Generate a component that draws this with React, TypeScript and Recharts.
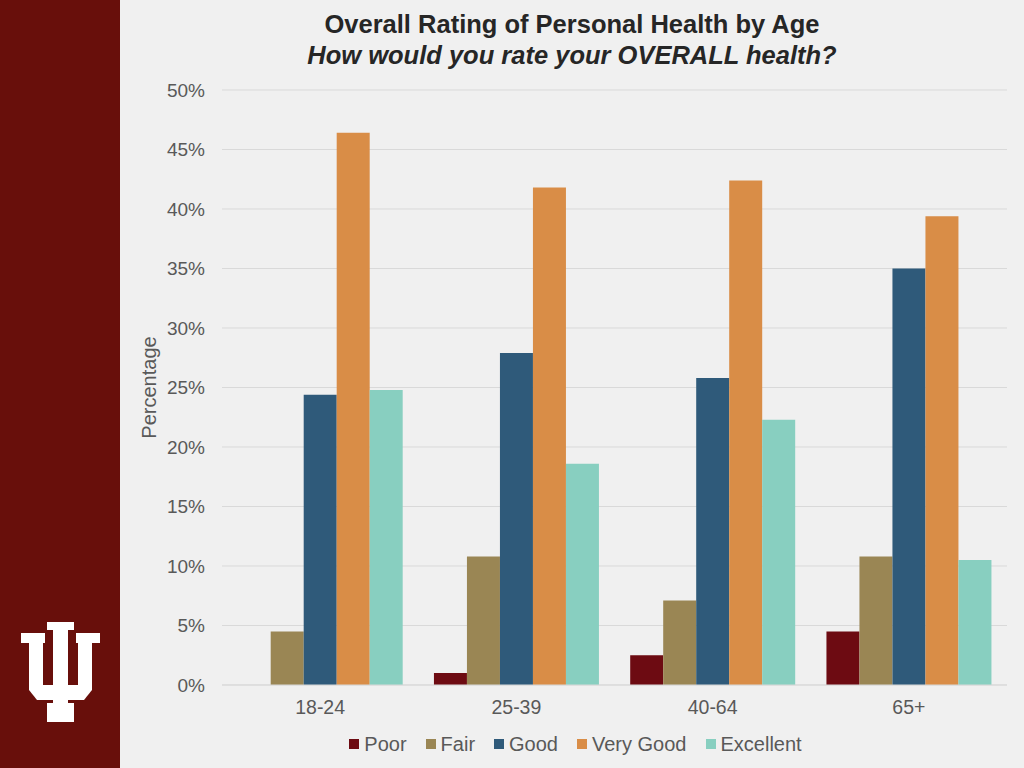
import { BarChart, Bar, XAxis, YAxis, CartesianGrid, Legend } from "recharts";

const ageGroups = ["18-24", "25-39", "40-64", "65+"];
const poor = [0, 1.0, 2.5, 4.5];
const fair = [4.5, 10.8, 7.1, 10.8];
const good = [24.4, 27.9, 25.8, 35.0];
const veryGood = [46.4, 41.8, 42.4, 39.4];
const excellent = [24.8, 18.6, 22.3, 10.5];
const yTicks = [0, 5, 10, 15, 20, 25, 30, 35, 40, 45, 50];

const seriesNames = ["Poor", "Fair", "Good", "Very Good", "Excellent"];
const seriesColors = ["#6d0b12", "#9a8654", "#2f5a7a", "#d98d47", "#88cfc0"];

const data = ageGroups.map((age, i) => ({
  age,
  Poor: poor[i],
  Fair: fair[i],
  Good: good[i],
  "Very Good": veryGood[i],
  Excellent: excellent[i],
}));

const font = "'Liberation Sans', Arial, sans-serif";

function HealthLegend() {
  return (
    <div
      style={{
        display: "flex",
        justifyContent: "center",
        alignItems: "center",
        height: 24,
        paddingLeft: 24,
        fontFamily: font,
        fontSize: 20,
        color: "#595959",
      }}
    >
      {seriesNames.map((name, i) => (
        <div key={name} style={{ display: "flex", alignItems: "center", marginRight: i < 4 ? 19 : 0 }}>
          <span
            style={{
              display: "inline-block",
              width: 10,
              height: 10,
              background: seriesColors[i],
              marginRight: 5,
            }}
          />
          <span>{name}</span>
        </div>
      ))}
    </div>
  );
}

function Logo() {
  return (
    <svg width={120} height={768} style={{ position: "absolute", left: 0, top: 0 }}>
      <rect x={0} y={0} width={120} height={768} fill="#680f0b" />
      <g fill="#ffffff">
        <rect x={47} y={622} width={27} height={8} />
        <rect x={53} y={622} width={15} height={100} />
        <rect x={21} y={633} width={24} height={10} />
        <rect x={29} y={633} width={14} height={57} />
        <rect x={76} y={633} width={24} height={10} />
        <rect x={78} y={633} width={14} height={57} />
        <polygon points="29,685 92,685 92,690 84,700 37,700 29,690" />
        <rect x={47} y={703} width={27} height={19} />
      </g>
    </svg>
  );
}

export default function App() {
  return (
    <div
      style={{
        position: "absolute",
        left: 0,
        top: 0,
        width: 1024,
        height: 768,
        background: "#f0f0f0",
        overflow: "hidden",
      }}
    >
      <Logo />
      <div
        style={{
          position: "absolute",
          left: 120,
          top: 9,
          width: 904,
          textAlign: "center",
          fontFamily: font,
          fontSize: 25.5,
          fontWeight: "bold",
          color: "#262626",
          lineHeight: "31px",
        }}
      >
        <div>Overall Rating of Personal Health by Age</div>
        <div style={{ fontStyle: "italic" }}>How would you rate your OVERALL health?</div>
      </div>
      <div style={{ position: "absolute", left: 120, top: 0 }}>
        <BarChart
          width={904}
          height={768}
          data={data}
          margin={{ top: 90, right: 17, bottom: 12, left: 0 }}
          barCategoryGap="8%"
          barGap={0}
        >
          <CartesianGrid vertical={false} stroke="#d9d9d9" />
          <XAxis
            dataKey="age"
            height={47}
            tickLine={false}
            tickSize={0}
            tickMargin={15}
            axisLine={{ stroke: "#d9d9d9" }}
            tick={{ fill: "#595959", fontSize: 19.5, fontFamily: font }}
          />
          <YAxis
            width={102}
            domain={[0, 50]}
            ticks={yTicks}
            interval={0}
            tickFormatter={(v: number) => `${v}%`}
            axisLine={false}
            tickLine={false}
            tickSize={0}
            tickMargin={17}
            tick={{ fill: "#595959", fontSize: 19, fontFamily: font }}
            label={{
              value: "Percentage",
              angle: -90,
              position: "insideLeft",
              offset: 29,
              style: { textAnchor: "middle", fill: "#595959", fontSize: 20, fontFamily: font },
            }}
          />
          <Legend verticalAlign="bottom" content={() => <HealthLegend />} />
          {seriesNames.map((name, i) => (
            <Bar key={name} dataKey={name} fill={seriesColors[i]} isAnimationActive={false} />
          ))}
        </BarChart>
      </div>
    </div>
  );
}
